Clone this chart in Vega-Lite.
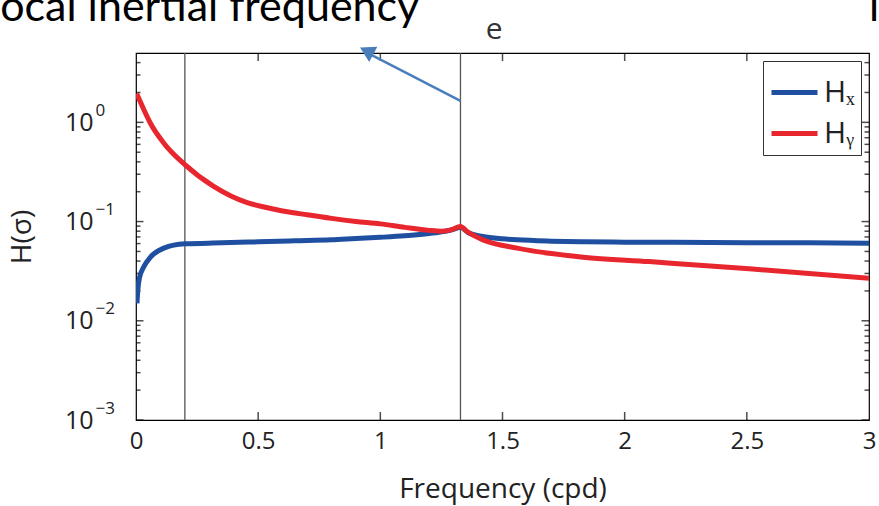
{
  "$schema": "https://vega.github.io/schema/vega-lite/v6.json",
  "width": 733,
  "height": 367,
  "autosize": {"type": "none"},
  "padding": {"left": 136, "top": 53, "right": 10, "bottom": 86},
  "background": "#ffffff",
  "config": {
    "view": {"stroke": "#000000", "strokeWidth": 1.2},
    "axis": {"grid": false, "domain": false, "labelColor": "#222222", "titleColor": "#222222"}
  },
  "datasets": {
    "yticks": [
      {"v": 0.001, "major": true}, {"v": 0.01, "major": true}, {"v": 0.1, "major": true}, {"v": 1, "major": true},
      {"v": 0.002, "major": false}, {"v": 0.003, "major": false}, {"v": 0.004, "major": false}, {"v": 0.005, "major": false},
      {"v": 0.006, "major": false}, {"v": 0.007, "major": false}, {"v": 0.008, "major": false}, {"v": 0.009, "major": false},
      {"v": 0.02, "major": false}, {"v": 0.03, "major": false}, {"v": 0.04, "major": false}, {"v": 0.05, "major": false},
      {"v": 0.06, "major": false}, {"v": 0.07, "major": false}, {"v": 0.08, "major": false}, {"v": 0.09, "major": false},
      {"v": 0.2, "major": false}, {"v": 0.3, "major": false}, {"v": 0.4, "major": false}, {"v": 0.5, "major": false},
      {"v": 0.6, "major": false}, {"v": 0.7, "major": false}, {"v": 0.8, "major": false}, {"v": 0.9, "major": false},
      {"v": 2, "major": false}, {"v": 3, "major": false}, {"v": 4, "major": false}
    ],
    "xticks": [
      {"f": 0.5}, {"f": 1}, {"f": 1.5}, {"f": 2}, {"f": 2.5}
    ]
  },
  "resolve": {"scale": {"x": "shared", "y": "shared"}, "axis": {"x": "independent", "y": "independent"}},
  "layer": [
    {
      "data": {"values": [
        {"f": 0.2}, {"f": 1.328}
      ]},
      "mark": {"type": "rule", "color": "#555555", "strokeWidth": 1.3},
      "encoding": {
        "x": {"field": "f", "type": "quantitative", "scale": {"domain": [0, 3], "nice": false, "zero": false}, "axis": null}
      }
    },
    {
      "data": {"name": "yticks"},
      "mark": {"type": "tick", "orient": "horizontal", "color": "#000000", "thickness": 1.5, "clip": true},
      "encoding": {
        "x": {"datum": 0, "type": "quantitative", "scale": {"domain": [0, 3], "nice": false, "zero": false}, "axis": null},
        "y": {"field": "v", "type": "quantitative", "scale": {"type": "log", "domain": [0.001, 5], "nice": false}, "axis": null},
        "size": {"condition": {"test": "datum.major", "value": 15}, "value": 9}
      }
    },
    {
      "data": {"name": "yticks"},
      "mark": {"type": "tick", "orient": "horizontal", "color": "#000000", "thickness": 1.5, "clip": true},
      "encoding": {
        "x": {"datum": 3, "type": "quantitative", "scale": {"domain": [0, 3], "nice": false, "zero": false}, "axis": null},
        "y": {"field": "v", "type": "quantitative", "scale": {"type": "log", "domain": [0.001, 5], "nice": false}, "axis": null},
        "size": {"condition": {"test": "datum.major", "value": 15}, "value": 9}
      }
    },
    {
      "data": {"name": "xticks"},
      "mark": {"type": "tick", "orient": "vertical", "color": "#000000", "thickness": 1.5, "size": 16, "clip": true},
      "encoding": {
        "x": {"field": "f", "type": "quantitative", "scale": {"domain": [0, 3], "nice": false, "zero": false}, "axis": null},
        "y": {"datum": 0.001, "type": "quantitative", "scale": {"type": "log", "domain": [0.001, 5], "nice": false}, "axis": null}
      }
    },
    {
      "data": {"name": "xticks"},
      "mark": {"type": "tick", "orient": "vertical", "color": "#000000", "thickness": 1.5, "size": 16, "clip": true},
      "encoding": {
        "x": {"field": "f", "type": "quantitative", "scale": {"domain": [0, 3], "nice": false, "zero": false}, "axis": null},
        "y": {"datum": 5, "type": "quantitative", "scale": {"type": "log", "domain": [0.001, 5], "nice": false}, "axis": null}
      }
    },
    {
      "data": {"values": [
        {"f": 0.004, "H": 0.015, "s": "Hx"},
        {"f": 0.008, "H": 0.021, "s": "Hx"},
        {"f": 0.014, "H": 0.027, "s": "Hx"},
        {"f": 0.032, "H": 0.035, "s": "Hx"},
        {"f": 0.06, "H": 0.044, "s": "Hx"},
        {"f": 0.114, "H": 0.054, "s": "Hx"},
        {"f": 0.2, "H": 0.0597, "s": "Hx"},
        {"f": 0.35, "H": 0.061, "s": "Hx"},
        {"f": 0.5, "H": 0.0625, "s": "Hx"},
        {"f": 0.65, "H": 0.064, "s": "Hx"},
        {"f": 0.8, "H": 0.0655, "s": "Hx"},
        {"f": 0.9, "H": 0.0675, "s": "Hx"},
        {"f": 1.0, "H": 0.0694, "s": "Hx"},
        {"f": 1.1, "H": 0.0718, "s": "Hx"},
        {"f": 1.15, "H": 0.0735, "s": "Hx"},
        {"f": 1.2, "H": 0.0758, "s": "Hx"},
        {"f": 1.26, "H": 0.0793, "s": "Hx"},
        {"f": 1.3, "H": 0.0834, "s": "Hx"},
        {"f": 1.328, "H": 0.0874, "s": "Hx"},
        {"f": 1.36, "H": 0.077, "s": "Hx"},
        {"f": 1.42, "H": 0.0706, "s": "Hx"},
        {"f": 1.5, "H": 0.067, "s": "Hx"},
        {"f": 1.56, "H": 0.0654, "s": "Hx"},
        {"f": 1.7, "H": 0.0635, "s": "Hx"},
        {"f": 1.83, "H": 0.0626, "s": "Hx"},
        {"f": 2.0, "H": 0.062, "s": "Hx"},
        {"f": 2.2, "H": 0.0618, "s": "Hx"},
        {"f": 2.5, "H": 0.0613, "s": "Hx"},
        {"f": 2.75, "H": 0.061, "s": "Hx"},
        {"f": 3.0, "H": 0.0606, "s": "Hx"},
        {"f": 0.003, "H": 1.94, "s": "Hy"},
        {"f": 0.03, "H": 1.38, "s": "Hy"},
        {"f": 0.059, "H": 0.98, "s": "Hy"},
        {"f": 0.114, "H": 0.617, "s": "Hy"},
        {"f": 0.2, "H": 0.375, "s": "Hy"},
        {"f": 0.318, "H": 0.226, "s": "Hy"},
        {"f": 0.455, "H": 0.155, "s": "Hy"},
        {"f": 0.52, "H": 0.141, "s": "Hy"},
        {"f": 0.6, "H": 0.128, "s": "Hy"},
        {"f": 0.7, "H": 0.117, "s": "Hy"},
        {"f": 0.8, "H": 0.1077, "s": "Hy"},
        {"f": 0.9, "H": 0.1003, "s": "Hy"},
        {"f": 1.0, "H": 0.0948, "s": "Hy"},
        {"f": 1.1, "H": 0.0874, "s": "Hy"},
        {"f": 1.2, "H": 0.0815, "s": "Hy"},
        {"f": 1.25, "H": 0.08, "s": "Hy"},
        {"f": 1.29, "H": 0.0825, "s": "Hy"},
        {"f": 1.328, "H": 0.089, "s": "Hy"},
        {"f": 1.355, "H": 0.0794, "s": "Hy"},
        {"f": 1.42, "H": 0.0654, "s": "Hy"},
        {"f": 1.56, "H": 0.054, "s": "Hy"},
        {"f": 1.83, "H": 0.0438, "s": "Hy"},
        {"f": 2.1, "H": 0.0395, "s": "Hy"},
        {"f": 2.19, "H": 0.0381, "s": "Hy"},
        {"f": 2.51, "H": 0.0334, "s": "Hy"},
        {"f": 3.0, "H": 0.0269, "s": "Hy"}
      ]},
      "mark": {"type": "line", "strokeWidth": 5, "interpolate": "monotone", "clip": true},
      "encoding": {
        "x": {"field": "f", "type": "quantitative", "scale": {"domain": [0, 3], "nice": false, "zero": false},
          "axis": {"orient": "bottom", "values": [0, 0.5, 1, 1.5, 2, 2.5, 3], "ticks": false, "labelFont": "Open Sans", "labelFontSize": 24, "labelPadding": 9, "labelFlush": false, "labelOverlap": false, "format": "~g",
            "title": "Frequency (cpd)", "titleFont": "Open Sans", "titleFontSize": 28, "titleFontWeight": "normal", "titlePadding": 22}},
        "y": {"field": "H", "type": "quantitative", "scale": {"type": "log", "domain": [0.001, 5], "nice": false},
          "axis": {"orient": "left", "values": [0.001, 0.01, 0.1, 1], "ticks": false, "labelExpr": "'10'", "labelFont": "Open Sans", "labelFontSize": 25, "labelPadding": 43, "labelBaseline": "middle", "labelOverlap": false, "labelFlush": false,
            "title": "H(σ)", "titleFont": "Open Sans", "titleFontSize": 28, "titleFontWeight": "normal", "titlePadding": 28}},
        "color": {"field": "s", "type": "nominal",
          "scale": {"domain": ["Hx", "Hy"], "range": ["#1f4fa0", "#e8262d"]},
          "legend": {"title": null, "orient": "top-right", "offset": 8, "symbolType": "stroke", "symbolSize": 2116, "symbolStrokeWidth": 5,
            "labelFont": "Open Sans", "labelFontSize": 30, "labelColor": "#222222", "labelExpr": "datum.label == 'Hx' ? 'Hₓ' : 'Hᵧ'",
            "strokeColor": "#333333", "fillColor": "#ffffff", "padding": 6, "rowPadding": 0, "labelOffset": 4, "zindex": 2}}
      }
    },
    {
      "data": {"values": [{}]},
      "mark": {"type": "rule", "color": "#4a7ebb", "strokeWidth": 2.5, "clip": false},
      "encoding": {
        "x": {"datum": 1.328, "type": "quantitative", "scale": {"domain": [0, 3], "nice": false, "zero": false}, "axis": null},
        "y": {"datum": 1.65, "type": "quantitative", "scale": {"type": "log", "domain": [0.001, 5], "nice": false},
          "axis": {"orient": "left", "values": [0.001, 0.01, 0.1, 1], "ticks": false, "labelExpr": "format(round(log(datum.value)/LN10), 'd')", "labelAlign": "left", "labelBaseline": "middle", "labelOffset": -12, "labelFont": "Open Sans", "labelFontSize": 17, "labelPadding": 41, "labelOverlap": false, "labelFlush": false, "title": null}},
        "x2": {"datum": 0.955},
        "y2": {"datum": 4.9}
      }
    },
    {
      "data": {"values": [{}]},
      "mark": {"type": "point", "shape": "triangle-up", "filled": true, "color": "#4a7ebb", "opacity": 1, "size": 300, "angle": 298, "clip": false},
      "encoding": {
        "x": {"datum": 0.944, "type": "quantitative", "scale": {"domain": [0, 3], "nice": false, "zero": false}, "axis": null},
        "y": {"datum": 5.25, "type": "quantitative", "scale": {"type": "log", "domain": [0.001, 5], "nice": false}, "axis": null}
      }
    },
    {
      "data": {"values": [{}]},
      "mark": {"type": "text", "text": "e", "font": "Open Sans", "fontSize": 30, "color": "#333333", "align": "center", "baseline": "middle", "clip": false},
      "encoding": {
        "x": {"datum": 1.466, "type": "quantitative", "scale": {"domain": [0, 3], "nice": false, "zero": false}, "axis": null},
        "y": {"datum": 8.6, "type": "quantitative", "scale": {"type": "log", "domain": [0.001, 5], "nice": false}, "axis": null}
      }
    },
    {
      "data": {"values": [{}]},
      "mark": {"type": "text", "text": "ocal inertial frequency", "font": "Lato", "fontSize": 43, "color": "#000000", "align": "left", "baseline": "alphabetic", "clip": false},
      "encoding": {
        "x": {"datum": -0.556, "type": "quantitative", "scale": {"domain": [0, 3], "nice": false, "zero": false}, "axis": null},
        "y": {"datum": 10.55, "type": "quantitative", "scale": {"type": "log", "domain": [0.001, 5], "nice": false}, "axis": null}
      }
    },
    {
      "data": {"values": [{}]},
      "mark": {"type": "text", "text": "l", "font": "Lato", "fontSize": 43, "color": "#000000", "align": "left", "baseline": "alphabetic", "clip": false},
      "encoding": {
        "x": {"datum": 3.0, "type": "quantitative", "scale": {"domain": [0, 3], "nice": false, "zero": false}, "axis": null},
        "y": {"datum": 10.55, "type": "quantitative", "scale": {"type": "log", "domain": [0.001, 5], "nice": false}, "axis": null}
      }
    }
  ]
}
